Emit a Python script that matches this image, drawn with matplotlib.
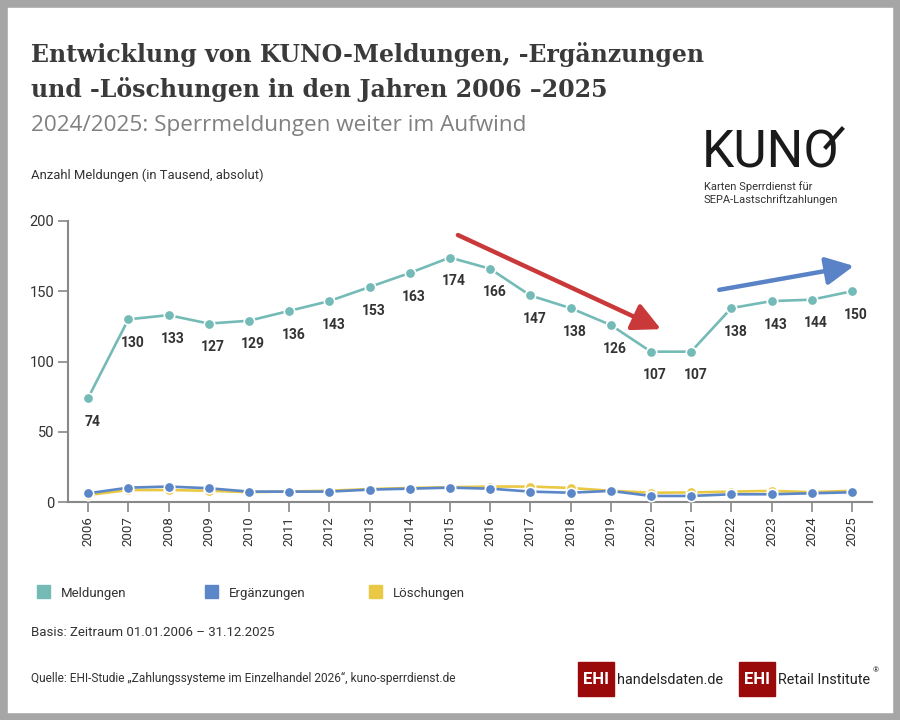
import numpy as np
import matplotlib.pyplot as plt
from matplotlib.patches import Rectangle
from matplotlib.lines import Line2D

# data (values in thousand)
years = list(range(2006, 2026))
meldungen = [74, 130, 133, 127, 129, 136, 143, 153, 163, 174,
             166, 147, 138, 126, 107, 107, 138, 143, 144, 150]
ergaenzungen = [6.2, 10.2, 11.0, 9.8, 7.4, 7.4, 7.4, 8.8, 9.5, 10.2,
                9.5, 7.4, 6.6, 7.9, 4.3, 4.3, 5.5, 5.5, 6.2, 6.9]
loeschungen = [5.0, 8.5, 8.5, 8.0, 7.0, 7.5, 8.0, 9.2, 10.0, 10.5,
               11.0, 11.0, 10.0, 8.0, 6.6, 6.8, 7.4, 7.9, 7.0, 8.0]
y_ticks = [0, 50, 100, 150, 200]

# trend arrows (start, end) in data units
red_arrow = ((2015.2, 190), (2020.25, 123))
blue_arrow = ((2021.7, 151), (2025.05, 168))

c_teal = '#74bbb7'
c_blue = '#5b87c9'
c_yellow = '#e9c843'
c_text = '#333333'

plt.rcParams['font.family'] = ['Roboto', 'DejaVu Sans']

fig = plt.figure(figsize=(9, 7.2), dpi=100)
fig.patch.set_facecolor('white')

# gray frame around the picture
fig.patches.append(Rectangle((0, 0), 1, 1, transform=fig.transFigure,
                             fill=False, edgecolor='#a6a6a6', linewidth=10.5))

ax = fig.add_axes([68 / 900, 1 - 502 / 720, 804 / 900, 281 / 720])

ax.plot(years, meldungen, color=c_teal, lw=1.9, marker='o', ms=7.5,
        mfc=c_teal, mec='white', mew=1.2, clip_on=False, zorder=3)
ax.plot(years, loeschungen, color=c_yellow, lw=1.9, marker='o', ms=7.5,
        mfc=c_yellow, mec='white', mew=1.2, clip_on=False, zorder=3)
ax.plot(years, ergaenzungen, color=c_blue, lw=1.9, marker='o', ms=7.5,
        mfc=c_blue, mec='white', mew=1.2, clip_on=False, zorder=4)

for x, v in zip(years, meldungen):
    ax.annotate(str(v), (x, v), xytext=(3, -12), textcoords='offset points',
                ha='center', va='top', fontsize=10, fontweight='bold',
                color=c_text, zorder=5)

for (s, e), col in [(red_arrow, '#c9393a'), (blue_arrow, '#5a82c7')]:
    ax.annotate('', xy=e, xytext=s, annotation_clip=False,
                arrowprops=dict(arrowstyle='-|>,head_length=1.0,head_width=0.5',
                                lw=3.2, color=col, mutation_scale=17,
                                shrinkA=0, shrinkB=0))

ax.set_xlim(2005.5, 2025.5)
ax.set_ylim(0, 200)
ax.set_xticks(years)
ax.set_xticklabels([str(y) for y in years], rotation=90, fontsize=9.5, color=c_text)
ax.set_yticks(y_ticks)
ax.set_yticklabels([str(t) for t in y_ticks], fontsize=10.5, color=c_text)
ax.tick_params(axis='both', length=7, width=1.2, color='#888888', pad=3)
for side in ['top', 'right']:
    ax.spines[side].set_visible(False)
for side in ['left', 'bottom']:
    ax.spines[side].set_color('#888888')
    ax.spines[side].set_linewidth(1.5)

# titles
fig.text(31 / 900, 1 - 62 / 720, 'Entwicklung von KUNO-Meldungen, -Ergänzungen',
         fontsize=17, fontweight='bold', family='DejaVu Serif', color='#3a3a3a')
fig.text(31 / 900, 1 - 97 / 720, 'und -Löschungen in den Jahren 2006 –2025',
         fontsize=17, fontweight='bold', family='DejaVu Serif', color='#3a3a3a')
fig.text(31 / 900, 1 - 131 / 720, '2024/2025: Sperrmeldungen weiter im Aufwind',
         fontsize=16.2, color='#808080', family='Open Sans')
fig.text(31 / 900, 1 - 179 / 720, 'Anzahl Meldungen (in Tausend, absolut)',
         fontsize=9.4, color=c_text)

# KUNO logo
fig.text(702 / 900, 1 - 167 / 720, 'KUNO', fontsize=37, color='#1a1a1a')
fig.lines.append(Line2D([826 / 900, 842 / 900], [1 - 147 / 720, 1 - 129 / 720],
                        transform=fig.transFigure, color='#1a1a1a', lw=3))
fig.text(704 / 900, 1 - 190 / 720, 'Karten Sperrdienst für', fontsize=8, color=c_text)
fig.text(704 / 900, 1 - 203 / 720, 'SEPA-Lastschriftzahlungen', fontsize=8, color=c_text)

# legend
for lx, col, name in [(37, c_teal, 'Meldungen'), (205, c_blue, 'Ergänzungen'),
                      (369, c_yellow, 'Löschungen')]:
    fig.patches.append(Rectangle((lx / 900, 1 - 598 / 720), 13 / 900, 13 / 720,
                                 transform=fig.transFigure, color=col))
    fig.text((lx + 24) / 900, 1 - 597 / 720, name, fontsize=9.5, color=c_text)

fig.text(31 / 900, 1 - 636 / 720, 'Basis: Zeitraum 01.01.2006 – 31.12.2025',
         fontsize=9.5, color=c_text)
fig.text(31 / 900, 1 - 682 / 720,
         'Quelle: EHI-Studie „Zahlungssysteme im Einzelhandel 2026“, kuno-sperrdienst.de',
         fontsize=8.6, color=c_text)

# EHI logos
for bx, label in [(578, 'handelsdaten.de'), (739, 'Retail Institute')]:
    fig.patches.append(Rectangle((bx / 900, 1 - 696 / 720), 36 / 900, 34 / 720,
                                 transform=fig.transFigure, color='#9b0a0a'))
    fig.text((bx + 18) / 900, 1 - 680 / 720, 'EHI', fontsize=12, fontweight='bold',
             color='white', ha='center', va='center')
    fig.text((bx + 39) / 900, 1 - 680 / 720, label, fontsize=10.4, color='#222222',
             va='center')
fig.text(873 / 900, 1 - 672 / 720, '®', fontsize=5.5, color='#222222')

fig.savefig('out.png', dpi=100)
